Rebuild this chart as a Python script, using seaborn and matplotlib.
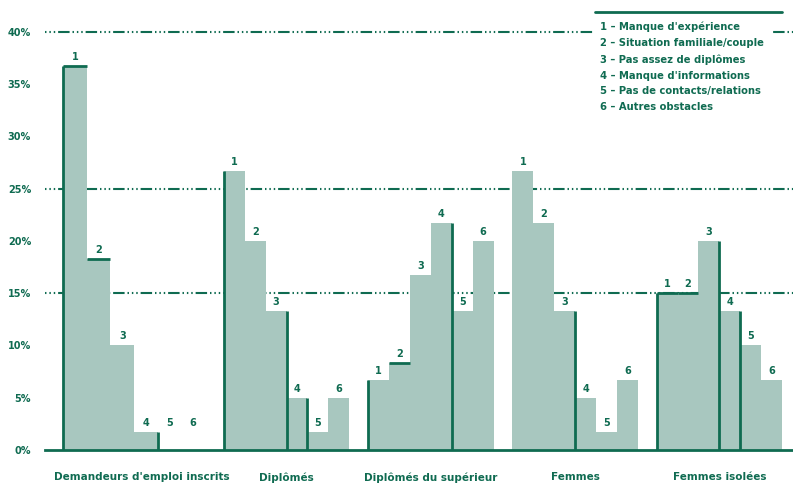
import pandas as pd
import seaborn as sns
import matplotlib.pyplot as plt
from matplotlib.lines import Line2D

# data (percent)
groups = ["Demandeurs d'emploi inscrits", "Diplômés", "Diplômés du supérieur",
          "Femmes", "Femmes isolées"]
reasons = ["1", "2", "3", "4", "5", "6"]
legend_lines = ["1 – Manque d'expérience",
                "2 – Situation familiale/couple",
                "3 – Pas assez de diplômes",
                "4 – Manque d'informations",
                "5 – Pas de contacts/relations",
                "6 – Autres obstacles"]
g1_vals = [36.7, 18.3, 10.0, 1.7, 0.0, 0.0]
g2_vals = [26.7, 20.0, 13.3, 5.0, 1.7, 5.0]
g3_vals = [6.7, 8.3, 16.7, 21.7, 13.3, 20.0]
g4_vals = [26.7, 21.7, 13.3, 5.0, 1.7, 6.7]
g5_vals = [15.0, 15.0, 20.0, 13.3, 10.0, 6.7]
ref_lines = [40, 25, 15]
yticks = [0, 5, 10, 15, 20, 25, 30, 35, 40]

rows = []
for g, vals in zip(groups, [g1_vals, g2_vals, g3_vals, g4_vals, g5_vals]):
    for r, v in zip(reasons, vals):
        rows.append({"groupe": g, "raison": r, "pct": v})
df = pd.DataFrame(rows)

dark = "#0f6b51"
light = "#a8c7bf"

sns.set_style("white")
fig = plt.figure(figsize=(7.93, 4.83), dpi=100)
ax = fig.add_axes([45 / 793, 33 / 483, 1 - 45 / 793, 439 / 483])

# dotted/dashed reference lines
for y in ref_lines:
    ax.axhline(y, color=dark, lw=1.5, zorder=0,
               linestyle=(0, (0.7, 1.4, 0.7, 1.4, 0.7, 1.4, 5.5, 1.4)))

sns.barplot(data=df, x="groupe", y="pct", hue="raison", order=groups,
            hue_order=reasons, palette=[light] * 6, width=0.87,
            legend=False, errorbar=None, saturation=1, linewidth=0,
            ax=ax, zorder=2)

# first group has slightly wider bars in the original
first = [c[0] for c in ax.containers]
w = first[0].get_width()
right_end = first[-1].get_x() + w
nw = w * 23.5 / 20.8
for i, p in enumerate(first):
    p.set_width(nw)
    p.set_x(right_end - (6 - i) * nw)

# dark highlighted edges (group, bar, side)
edges = [(0, 0, "left"), (0, 0, "top"), (0, 1, "top"), (0, 3, "right"),
         (1, 0, "left"), (1, 2, "right"), (1, 3, "right"),
         (2, 0, "left"), (2, 1, "top"), (2, 3, "right"),
         (3, 2, "right"),
         (4, 0, "left"), (4, 0, "top"), (4, 1, "top"), (4, 2, "right"), (4, 3, "right")]
for g, b, side in edges:
    p = ax.containers[b][g]
    x0, x1, h = p.get_x(), p.get_x() + p.get_width(), p.get_height()
    if side == "left":
        ax.plot([x0, x0], [0, h], color=dark, lw=2, zorder=3, solid_capstyle="butt")
    elif side == "right":
        ax.plot([x1, x1], [0, h], color=dark, lw=2, zorder=3, solid_capstyle="butt")
    else:
        ax.plot([x0, x1], [h, h], color=dark, lw=2, zorder=3, solid_capstyle="butt")

# value labels (bar number above each bar)
for b, cont in enumerate(ax.containers):
    for g, p in enumerate(cont):
        h = max(p.get_height(), 1.7)
        ax.text(p.get_x() + p.get_width() / 2, h + 0.4, reasons[b],
                ha="center", va="bottom", fontsize=7, color=dark, fontweight="bold")

ax.set_xlim(-0.674, 4.51)
ax.set_ylim(0, 42)
ax.set_yticks(yticks)
ax.set_yticklabels([f"{t}%" for t in yticks], fontsize=7, color=dark, fontweight="bold")
ax.set_xticks(range(len(groups)))
ax.set_xticklabels(groups, fontsize=7.5, color=dark, fontweight="bold")
ax.tick_params(axis="y", length=0, pad=10)
ax.tick_params(axis="x", length=0, pad=16)
ax.set_xlabel("")
ax.set_ylabel("")
for s in ["left", "right", "top"]:
    ax.spines[s].set_visible(False)
ax.spines["bottom"].set_color(dark)
ax.spines["bottom"].set_linewidth(2)
ax.spines["bottom"].set_zorder(4)

# legend box in the top right corner
fig.add_artist(Line2D([595 / 793, 782 / 793], [1 - 12 / 483, 1 - 12 / 483],
                      color=dark, lw=2))
fig.text(600 / 793, 1 - 22 / 483, "\n".join(legend_lines), ha="left", va="top",
         fontsize=7.2, color=dark, fontweight="bold", linespacing=1.72,
         bbox=dict(facecolor="white", edgecolor="none", pad=5))

fig.savefig("out.png", dpi=100)
